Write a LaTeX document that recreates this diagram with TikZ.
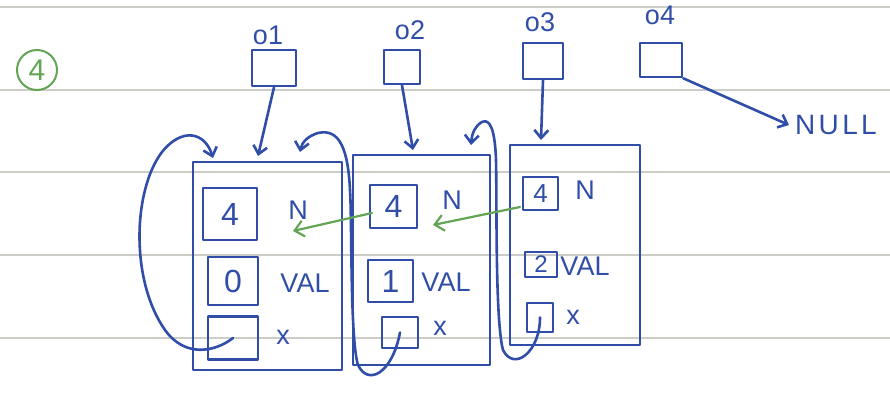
\documentclass[tikz,border=0pt]{standalone}
\usepackage{fontspec}
\setmainfont{Liberation Sans}
\usetikzlibrary{arrows.meta}
\definecolor{ink}{RGB}{48,78,168}
\definecolor{gink}{RGB}{100,165,85}
\definecolor{rule}{RGB}{205,205,200}
\begin{document}
\begin{tikzpicture}[x=1pt,y=-1pt,
  inkline/.style={draw=ink,line width=2.6pt,line cap=round,line join=round},
  arr/.style={inkline,-{Straight Barb[length=8pt,width=14pt]}},
  garr/.style={draw=gink,line width=2.2pt,line cap=round,-{Straight Barb[length=9pt,width=16pt]}},
  bigbox/.style={inkline,rectangle,inner sep=0pt},
  cell/.style={inkline,rectangle,inner sep=0pt,text=ink,font=\fontsize{32}{32}\selectfont},
  lbl/.style={text=ink,font=\fontsize{27}{27}\selectfont,inner sep=0pt},
  ptr/.style={inkline,rectangle,inner sep=0pt}]
\useasboundingbox (0,0) rectangle (890,394);
\fill[white] (0,0) rectangle (890,394);
% ruled paper
\foreach \yy in {7,90,172,255,338}{\draw[rule,line width=1.2pt] (0,\yy) -- (890,\yy);}
% circled number
\node[draw=gink,line width=2pt,circle,minimum size=40pt,inner sep=0pt,text=gink,font=\fontsize{30}{30}\selectfont] (num) at (37,70) {4};
% pointer labels
\node[lbl] (l1) at (268,35) {o1};
\node[lbl] (l2) at (410,30) {o2};
\node[lbl] (l3) at (540,22) {o3};
\node[lbl] (l4) at (660,15) {o4};
% pointer boxes
\node[ptr,minimum width=44pt,minimum height=36pt] (p1) at (274,68) {};
\node[ptr,minimum width=36pt,minimum height=34pt] (p2) at (402,67) {};
\node[ptr,minimum width=40pt,minimum height=36pt] (p3) at (543,61) {};
\node[ptr,minimum width=42pt,minimum height=34pt] (p4) at (661,60) {};
\node[lbl,font=\fontsize{28}{28}\selectfont\addfontfeature{LetterSpace=12}] (null) at (836,125) {NULL};
% big boxes
\node[bigbox,minimum width=149pt,minimum height=208pt] (b1) at (267.5,266) {};
\node[bigbox,minimum width=137pt,minimum height=210pt] (b2) at (421.5,260) {};
\node[bigbox,minimum width=130pt,minimum height=200pt] (b3) at (575,245) {};
% box 1 contents
\node[cell,minimum width=54pt,minimum height=52pt] (b1n) at (230,214) {4};
\node[cell,minimum width=50pt,minimum height=48pt] (b1v) at (233,281) {0};
\node[cell,minimum width=50pt,minimum height=43pt] (b1x) at (233,338) {};
\node[lbl] (b1N) at (298,210) {N};
\node[lbl] (b1V) at (305,283) {VAL};
\node[lbl] (b1X) at (283,337) {x};
% box 2 contents
\node[cell,minimum width=47pt,minimum height=43pt] (b2n) at (393.5,206.5) {4};
\node[cell,minimum width=45pt,minimum height=42pt] (b2v) at (390.5,281) {1};
\node[cell,minimum width=36pt,minimum height=31pt] (b2x) at (400,332.5) {};
\node[lbl] (b2N) at (452,200) {N};
\node[lbl] (b2V) at (446,282) {VAL};
\node[lbl] (b2X) at (440,328) {x};
% box 3 contents
\node[cell,minimum width=35pt,minimum height=33pt,font=\fontsize{26}{26}\selectfont] (b3n) at (540.5,193.5) {4};
\node[cell,minimum width=32pt,minimum height=25pt,font=\fontsize{24}{24}\selectfont] (b3v) at (541,264.5) {2};
\node[cell,minimum width=26pt,minimum height=29pt] (b3x) at (540,317.5) {};
\node[lbl] (b3N) at (585,190) {N};
\node[lbl] (b3V) at (585,266) {VAL};
\node[lbl] (b3X) at (573,317) {x};
% arrow targets
\coordinate (t1) at (258,156);
\coordinate (t2) at (413,150);
\coordinate (t3) at (541,140);
\draw[arr] (p1.south) -- (t1);
\draw[arr] (p2.south) -- (t2);
\draw[arr] (p3.south) -- (t3);
\draw[arr] (p4.south east) -- ([xshift=-6pt]null.west);
% x pointers
\coordinate (c1) at (213,158);
\coordinate (c2) at (300,152);
\coordinate (c3) at (471,145);
\draw[arr] (b1x.center) .. controls (215,352) and (185,358) .. (165,330)
  .. controls (130,280) and (133,190) .. (162,152)
  .. controls (182,127) and (205,132) .. (c1);
\draw[arr] (b2x.center) .. controls (392,374) and (368,386) .. (358,365)
  .. controls (350,340) and (352,220) .. (350,190)
  .. controls (348,150) and (340,128) .. (318,133)
  .. controls (308,136) and (302,142) .. (c2);
\draw[arr] (b3x.center) .. controls (540,352) and (514,372) .. (503,350)
  .. controls (495,320) and (497,200) .. (496,160)
  .. controls (495,130) and (490,118) .. (482,122)
  .. controls (475,126) and (472,133) .. (c3);
% green arrows
\coordinate (g1s) at (520,207);
\coordinate (g1e) at (433,225);
\coordinate (g2s) at (372,213);
\coordinate (g2e) at (293,231);
\draw[garr] (g1s) -- (g1e);
\draw[garr] (g2s) -- (g2e);
\end{tikzpicture}
\end{document}
